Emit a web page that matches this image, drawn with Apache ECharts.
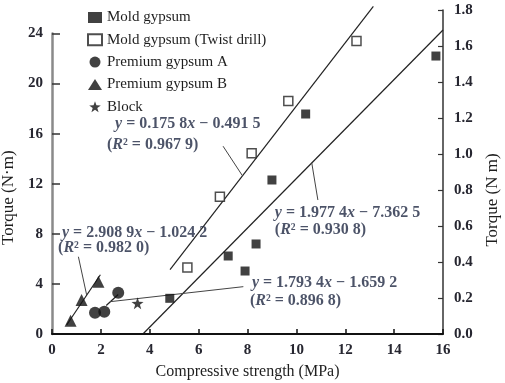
<!DOCTYPE html>
<html>
<head>
<meta charset="utf-8">
<script src="https://cdn.jsdelivr.net/npm/echarts@6/dist/echarts.min.js"></script>
<style>
  html, body { margin: 0; padding: 0; background: #fff; }
  #chart { width: 505px; height: 383px; }
</style>
</head>
<body>
<div id="chart"></div>
<script>
// values (x: MPa, left y: N·m, right y: N m)
const moldGypsum = [[4.82, 2.85], [7.21, 6.23], [7.9, 5.03], [8.35, 7.19], [9.0, 12.3], [10.38, 17.57], [15.71, 22.2]];
const twistDrill = [[5.54, 0.37], [6.87, 0.763], [8.17, 1.004], [9.67, 1.294], [12.46, 1.628]];
const premiumA = [[1.76, 1.7], [2.14, 1.78], [2.71, 3.3]];
const premiumB = [[0.76, 1.06], [1.21, 2.72], [1.9, 4.18]];
const block = [[3.5, 2.45]];

// fitted lines (end points)
const moldFit = [[3.72, 0], [16, 24.28]];
const twistFit = [[4.83, 0.358], [13.15, 1.82]];
const premiumAFit = [[2.22, 2.28], [2.71, 3.16]];
const premiumBFit = [[0.6, 0.72], [1.98, 4.73]];

// leader lines from the equations to the fitted lines
const leaders = [
  [[7.0, 15.0], [7.79, 12.65]],
  [[10.63, 13.66], [10.88, 10.7]],
  [[1.08, 6.17], [1.42, 3.1]],
  [[2.37, 2.58], [7.83, 3.78]],
];

// equation labels: [x, y, text]
const eqLabels = [
  [2.58, 16.77, "{i|y} = 0.175 8{i|x} − 0.491 5"],
  [2.25, 15.1, "({i|R}² = 0.967 9)"],
  [9.12, 9.66, "{i|y} = 1.977 4{i|x} − 7.362 5"],
  [9.12, 8.31, "({i|R}² = 0.930 8)"],
  [0.41, 8.07, "{i|y} = 2.908 9{i|x} − 1.024 2"],
  [0.25, 6.87, "({i|R}² = 0.982 0)"],
  [8.18, 4.07, "{i|y} = 1.793 4{i|x} − 1.659 2"],
  [8.1, 2.64, "({i|R}² = 0.896 8)"],
];

const seriesNames = ["Mold gypsum", "Mold gypsum (Twist drill)", "Premium gypsum A", "Premium gypsum B", "Block"];

const SERIF = "Liberation Serif";
const tickColor = "#262630";
const textColor = "#1f2842";
const star = "path://M0,-10L2.35,-3.24L9.51,-3.09L3.8,1.24L5.88,8.09L0,4L-5.88,8.09L-3.8,1.24L-9.51,-3.09L-2.35,-3.24Z";

const chart = echarts.init(document.getElementById("chart"), null, { renderer: "canvas" });

function fitLine(data, xi, yi, color, width) {
  return {
    type: "line",
    xAxisIndex: xi,
    yAxisIndex: yi,
    data: data,
    showSymbol: false,
    symbol: "none",
    silent: true,
    clip: false,
    lineStyle: { color: color, width: width },
    z: 1,
  };
}

const labelSeries = {
  type: "scatter",
  xAxisIndex: 0,
  yAxisIndex: 0,
  symbolSize: 0,
  silent: true,
  data: eqLabels,
  label: {
    show: true,
    position: "right",
    distance: 0,
    formatter: (p) => p.data[2],
    fontFamily: SERIF,
    fontSize: 16,
    fontWeight: "bold",
    color: textColor,
    rich: {
      i: { fontFamily: SERIF, fontSize: 16, fontWeight: "bold", fontStyle: "italic", color: textColor },
    },
  },
  z: 5,
};

const axisLabelStyle = {
  fontFamily: SERIF,
  fontSize: 15,
  fontWeight: "bold",
  color: tickColor,
};

chart.setOption({
  animation: false,
  backgroundColor: "#fff",
  legend: {
    data: seriesNames,
    orient: "vertical",
    left: 82,
    top: 5,
    itemWidth: 14,
    itemHeight: 11,
    itemGap: 7.3,
    textStyle: { fontFamily: SERIF, fontSize: 15, color: "#1e1e1e" },
    selectedMode: false,
  },
  grid: [
    { left: 52, right: 62, top: 33.5, bottom: 49, outerBoundsMode: "none", containLabel: false },
    { left: 52, right: 62, top: 10, bottom: 49, outerBoundsMode: "none", containLabel: false },
  ],
  xAxis: [
    {
      gridIndex: 0,
      type: "value",
      min: 0,
      max: 16,
      interval: 2,
      name: "Compressive strength (MPa)",
      nameLocation: "middle",
      nameGap: 30,
      nameTextStyle: { fontFamily: SERIF, fontSize: 16, color: "#1e1e1e" },
      axisLine: { onZero: false, lineStyle: { color: "#111", width: 2 } },
      axisTick: { inside: true, length: 5, lineStyle: { color: "#111", width: 1.5 } },
      axisLabel: Object.assign({ margin: 9 }, axisLabelStyle),
      splitLine: { show: false },
      z: 4,
    },
    {
      gridIndex: 1,
      type: "value",
      min: 0,
      max: 16,
      show: false,
      axisLine: { show: false, onZero: false },
    },
  ],
  yAxis: [
    {
      gridIndex: 0,
      type: "value",
      position: "left",
      min: 0,
      max: 24,
      interval: 4,
      name: "Torque (N·m)",
      nameLocation: "middle",
      nameGap: 26,
      nameRotate: 90,
      nameTextStyle: { fontFamily: SERIF, fontSize: 17, color: "#1e1e1e", padding: [0, 28, 0, 0] },
      axisLine: { show: true, onZero: false, lineStyle: { color: "#8a8a8a", width: 2.5 } },
      axisTick: { show: true, inside: true, length: 8, lineStyle: { color: "#333", width: 1.5 } },
      axisLabel: Object.assign({ margin: 9 }, axisLabelStyle),
      splitLine: { show: false },
    },
    {
      gridIndex: 1,
      type: "value",
      position: "right",
      min: 0,
      max: 1.8,
      interval: 0.2,
      name: "Torque (N m)",
      nameLocation: "middle",
      nameGap: 37,
      nameRotate: 90,
      nameTextStyle: { fontFamily: SERIF, fontSize: 17, color: "#1e1e1e", padding: [0, 56, 0, 0] },
      axisLine: { show: true, onZero: false, lineStyle: { color: "#333", width: 1.5 } },
      axisTick: { show: true, inside: true, length: 5, lineStyle: { color: "#333", width: 1.2 } },
      axisLabel: Object.assign({ margin: 11, formatter: (v) => v.toFixed(1) }, axisLabelStyle),
      splitLine: { show: false },
    },
  ],
  series: [
    {
      name: seriesNames[0],
      type: "scatter",
      xAxisIndex: 0,
      yAxisIndex: 0,
      symbol: "rect",
      symbolSize: 9,
      itemStyle: { color: "#111" },
      data: moldGypsum,
      z: 3,
    },
    {
      name: seriesNames[1],
      type: "scatter",
      xAxisIndex: 1,
      yAxisIndex: 1,
      symbol: "rect",
      symbolSize: 9,
      itemStyle: { color: "#fff", borderColor: "#222", borderWidth: 1.5 },
      data: twistDrill,
      z: 3,
    },
    {
      name: seriesNames[2],
      type: "scatter",
      xAxisIndex: 0,
      yAxisIndex: 0,
      symbol: "circle",
      symbolSize: 12,
      itemStyle: { color: "#111" },
      data: premiumA,
      z: 3,
    },
    {
      name: seriesNames[3],
      type: "scatter",
      xAxisIndex: 0,
      yAxisIndex: 0,
      symbol: "triangle",
      symbolSize: 12,
      itemStyle: { color: "#111" },
      data: premiumB,
      z: 3,
    },
    {
      name: seriesNames[4],
      type: "scatter",
      xAxisIndex: 0,
      yAxisIndex: 0,
      symbol: star,
      symbolSize: 12,
      itemStyle: { color: "#111" },
      data: block,
      z: 3,
    },
    fitLine(moldFit, 0, 0, "#222", 1.2),
    fitLine(twistFit, 1, 1, "#222", 1.2),
    fitLine(premiumAFit, 0, 0, "#222", 1.2),
    fitLine(premiumBFit, 0, 0, "#222", 1.2),
    ...leaders.map((d) => fitLine(d, 0, 0, "#444", 1)),
    labelSeries,
  ],
});
</script>
</body>
</html>
